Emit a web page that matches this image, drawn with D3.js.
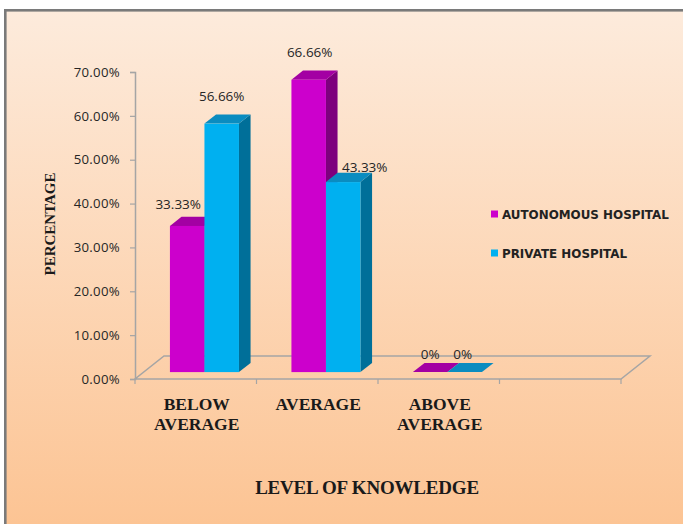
<!DOCTYPE html>
<html><head><meta charset="utf-8">
<script src="https://cdn.jsdelivr.net/npm/d3@7"></script>
<style>body{margin:0;background:#fff}svg{display:block}</style>
</head><body><svg id="c" width="683" height="524"></svg>
<script>
// ---- data ----
const categories = ["BELOW AVERAGE", "AVERAGE", "ABOVE AVERAGE", ""];
const seriesNames = ["AUTONOMOUS HOSPITAL", "PRIVATE HOSPITAL"];
const autonomousValues = [0.3333, 0.6666, 0, null];
const privateValues = [0.5666, 0.4333, 0, null];
const autonomousLabels = ["33.33%", "66.66%", "0%", ""];
const privateLabels = ["56.66%", "43.33%", "0%", ""];
const yTickValues = [0, 0.1, 0.2, 0.3, 0.4, 0.5, 0.6, 0.7];
const yTitle = "PERCENTAGE";
const xTitle = "LEVEL OF KNOWLEDGE";

// ---- layout / style ----
const svg = d3.select("#c");
const colors = [
  {front: "#cc00cc", top: "#a300a3", side: "#7d007d"},
  {front: "#00b0f0", top: "#0a8cc0", side: "#006f99"}
];
const plot = {left: 135, right: 621, bottom: 379, top: 72};
const depth = {dx: 29, dy: -23};      // full floor depth
const barDepth = {a: 0.30, b: 0.70};  // bar front/back depth fractions
// label nudges relative to (front centre x, front top y)
const labelOffsets = [
  [[-9, -16.5], [1, -23], [0, -13]],
  [[0, -22.5], [21.5, -10.5], [-2, -13]]
];

// background
const defs = svg.append("defs");
const g = defs.append("linearGradient").attr("id", "bg").attr("x1", 0).attr("y1", 0).attr("x2", 0).attr("y2", 1);
g.append("stop").attr("offset", "0%").attr("stop-color", "#fdebdc");
g.append("stop").attr("offset", "100%").attr("stop-color", "#fcc290");
svg.append("rect").attr("x", 5.3).attr("y", 10.3).attr("width", 700).attr("height", 540)
  .attr("fill", "url(#bg)").attr("stroke", "#7a7a7a").attr("stroke-width", 2.6);

// scales
const x0 = d3.scaleBand().domain(categories.map((d, i) => i)).range([plot.left, plot.right]).padding(0);
const x1 = d3.scaleBand().domain([0, 1]).range([0, x0.bandwidth()]).paddingInner(0).paddingOuter(0.76);
const y = d3.scaleLinear().domain([0, 0.7]).range([plot.bottom, plot.top]);

const gray = "#a5a5a5";
// floor
const fl = plot.left, fr = plot.right, fb = plot.bottom;
svg.append("path")
  .attr("d", `M${fl},${fb}L${fr},${fb}L${fr + depth.dx},${fb + depth.dy}L${fl + depth.dx},${fb + depth.dy}Z`)
  .attr("fill", "none").attr("stroke", gray).attr("stroke-width", 1.5);

// y axis
const yAxis = d3.axisLeft(y).tickValues(yTickValues).tickSize(5).tickPadding(10)
  .tickFormat(d => d3.format(".2f")(d * 100) + "%");
const ya = svg.append("g").attr("transform", `translate(${plot.left},0)`).call(yAxis);
ya.select(".domain").attr("stroke", gray).attr("stroke-width", 1.5);
ya.selectAll(".tick line").attr("stroke", gray).attr("stroke-width", 1.2);
ya.selectAll(".tick text").attr("font-family", "Open Sans").attr("font-size", "13.2px")
  .attr("fill", "#262626").attr("letter-spacing", "0.3px");

// x category ticks
const xTickPos = categories.map((d, i) => x0(i)).concat([x0(categories.length - 1) + x0.bandwidth()]);
svg.append("g").selectAll("line").data(xTickPos).join("line")
  .attr("x1", d => d).attr("x2", d => d).attr("y1", plot.bottom).attr("y2", plot.bottom + 5)
  .attr("stroke", gray).attr("stroke-width", 1.2);

// category labels
const cl = svg.append("g").attr("font-family", "Liberation Serif").attr("font-weight", "bold")
  .attr("font-size", "17.5px").attr("fill", "#1a1a1a").attr("text-anchor", "middle");
categories.forEach((c, i) => {
  if (!c) return;
  const t = cl.append("text").attr("x", x0(i) + x0.bandwidth() / 2 + 1).attr("y", 410);
  c.split(" ").forEach((w, k) => t.append("tspan").attr("x", x0(i) + x0.bandwidth() / 2 + 1).attr("dy", k ? 20 : 0).text(w));
});

// bars
const seriesValues = [autonomousValues, privateValues];
const seriesLabels = [autonomousLabels, privateLabels];
const ax = barDepth.a * depth.dx, ay = barDepth.a * depth.dy;
const bx = (barDepth.b - barDepth.a) * depth.dx, by = (barDepth.b - barDepth.a) * depth.dy;
const bars = svg.append("g");
categories.forEach((c, i) => {
  [0, 1].forEach(s => {
    const v = seriesValues[s][i];
    if (v === null) return;
    const xl = x0(i) + x1(s) + ax, xr = xl + x1.bandwidth();
    const yb = y(0) + ay, yt = y(v) + ay;
    const col = colors[s];
    if (v > 0) {
      bars.append("path").attr("d", `M${xr},${yb}L${xr + bx},${yb + by}L${xr + bx},${yt + by}L${xr},${yt}Z`).attr("fill", col.side);
    }
    bars.append("path").attr("d", `M${xl},${yt}L${xr},${yt}L${xr + bx},${yt + by}L${xl + bx},${yt + by}Z`).attr("fill", col.top);
    if (v > 0) {
      bars.append("rect").attr("x", xl).attr("y", yt).attr("width", xr - xl).attr("height", yb - yt).attr("fill", col.front);
    }
  });
});

// data labels
const dl = svg.append("g").attr("font-family", "Open Sans").attr("font-size", "13.5px").attr("fill", "#262626").attr("text-anchor", "middle");
categories.forEach((c, i) => {
  [0, 1].forEach(s => {
    const v = seriesValues[s][i];
    if (v === null) return;
    const xl = x0(i) + x1(s) + ax;
    const cx = xl + x1.bandwidth() / 2, yt = y(v) + ay;
    const off = labelOffsets[s][i];
    dl.append("text").attr("x", cx + off[0]).attr("y", yt + off[1]).text(seriesLabels[s][i]);
  });
});

// axis titles
svg.append("text").attr("x", 367).attr("y", 494).attr("text-anchor", "middle")
  .attr("font-family", "Liberation Serif").attr("font-weight", "bold").attr("font-size", "19px")
  .attr("letter-spacing", "-0.2px").attr("fill", "#1a1a1a").text(xTitle);
svg.append("text").attr("transform", "translate(55,224) rotate(-90)").attr("text-anchor", "middle")
  .attr("font-family", "Liberation Serif").attr("font-weight", "bold").attr("font-size", "15px")
  .attr("fill", "#1a1a1a").text(yTitle);

// legend
const lg = svg.append("g");
seriesNames.forEach((n, k) => {
  const ly = 214 + k * 39;
  lg.append("rect").attr("x", 491).attr("y", ly - 3.5).attr("width", 7).attr("height", 7).attr("fill", colors[k].front);
  lg.append("text").attr("x", 502).attr("y", ly + 4.5).attr("font-family", "DejaVu Sans").attr("font-weight", "bold")
    .attr("font-size", "11.9px").attr("fill", "#222").text(n);
});
</script></body></html>
